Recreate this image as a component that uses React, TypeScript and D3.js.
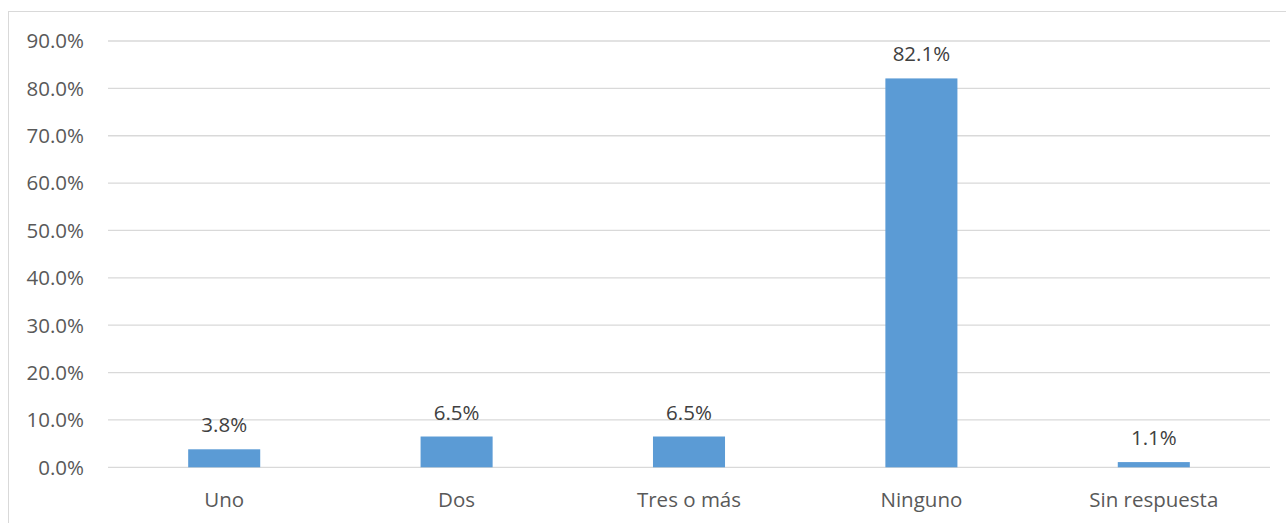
import React from "react";
import * as d3 from "d3";

const categories = ["Uno", "Dos", "Tres o más", "Ninguno", "Sin respuesta"];
const values = [3.8, 6.5, 6.5, 82.1, 1.1];
const yTicks = [0, 10, 20, 30, 40, 50, 60, 70, 80, 90];

const W = 1286;
const H = 523;
const FONT = "'Open Sans', 'Liberation Sans', sans-serif";
const TEXT = "#595959";

export default function App() {
  const left = 108;
  const right = 1270;
  const top = 41;
  const bottom = 467.3;

  const x = d3.scaleBand<string>().domain(categories).range([left, right]).paddingInner(0.69).paddingOuter(0.345);
  const y = d3.scaleLinear().domain([0, 90]).range([bottom, top]);

  return (
    <svg
      width={W}
      height={H}
      style={{ position: "fixed", left: 0, top: 0, background: "#fff" }}
      fontFamily={FONT}
    >
      <rect x={8.5} y={11.5} width={1300} height={600} fill="#fff" stroke="#D9D9D9" strokeWidth={1} />
      {yTicks.map((t) => (
        <g key={t}>
          <line x1={left} x2={right} y1={y(t)} y2={y(t)} stroke="#D9D9D9" strokeWidth={1.3} />
          <text x={84} y={y(t)} dy="0.36em" textAnchor="end" fontSize={20.5} fill={TEXT}>
            {t.toFixed(1) + "%"}
          </text>
        </g>
      ))}
      {categories.map((c, i) => (
        <g key={c}>
          <rect x={x(c)!} y={y(values[i])} width={x.bandwidth()} height={y(0) - y(values[i])} fill="#5B9BD5" />
          <text
            x={x(c)! + x.bandwidth() / 2}
            y={y(values[i]) - 17}
            textAnchor="middle"
            fontSize={20.5}
            fill="#404040"
          >
            {values[i].toFixed(1) + "%"}
          </text>
          <text x={x(c)! + x.bandwidth() / 2} y={507} textAnchor="middle" fontSize={20.5} fill={TEXT}>
            {c}
          </text>
        </g>
      ))}
    </svg>
  );
}
